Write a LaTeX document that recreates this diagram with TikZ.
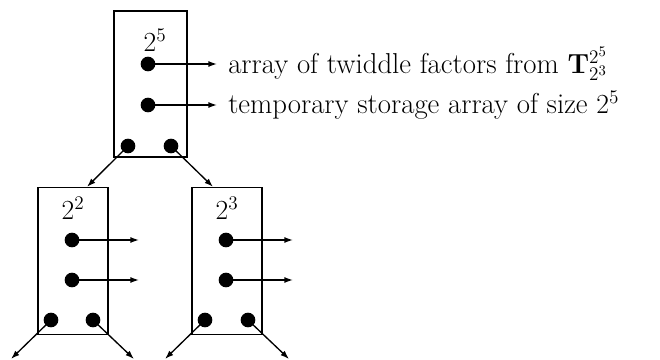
\documentclass[tikz,border=0pt]{standalone}
\usetikzlibrary{arrows.meta}
\begin{document}
\begin{tikzpicture}[x=0.75pt,y=-0.75pt,
  box/.style={draw,line width=1.2pt,inner sep=0pt,minimum width=54pt,minimum height=110pt},
  dot/.style={circle,fill=black,inner sep=0pt,minimum size=11pt},
  ptr/.style={line width=1pt,-{Latex[length=6.5pt,width=4.5pt]}},
  lbl/.style={font=\fontsize{21.6}{26}\selectfont,inner sep=0pt}]
\useasboundingbox (0,0) rectangle (660,360);
% top box
\node[box,minimum width=54.75pt,minimum height=109.5pt] (top) at (150.5,84) {};
\node[lbl] (tl) at (155,40) {$2^5$};
\node[dot] (t1) at (148,64) {};
\node[dot] (t2) at (148,105) {};
\node[dot] (t3) at (128,146) {};
\node[dot] (t4) at (171,146) {};
\coordinate (t1e) at (217,64);
\coordinate (t2e) at (217,105);
\draw[ptr] (t1.center) -- (t1e);
\draw[ptr] (t2.center) -- (t2e);
\node[lbl,anchor=west] (txt1) at (228,64) {array of twiddle factors from $\mathbf{T}^{2^5}_{2^3}$};
\node[lbl,anchor=west] (txt2) at (228,105) {temporary storage array of size $2^5$};
% left child
\node[box,minimum width=52.5pt,minimum height=110pt] (lb) at (73,261) {};
\node[lbl] (ll) at (73,208) {$2^2$};
\node[dot] (l1) at (72,240) {};
\node[dot] (l2) at (72,280) {};
\node[dot] (l3) at (51,320) {};
\node[dot] (l4) at (93,320) {};
\coordinate (l1e) at (139,240);
\coordinate (l2e) at (139,280);
\coordinate (l3e) at (11,359);
\coordinate (l4e) at (134,359);
% right child
\node[box,minimum width=52.5pt,minimum height=110pt] (rb) at (227,261) {};
\node[lbl] (rl) at (227,208) {$2^3$};
\node[dot] (r1) at (226,240) {};
\node[dot] (r2) at (226,280) {};
\node[dot] (r3) at (205,320) {};
\node[dot] (r4) at (248,320) {};
\coordinate (r1e) at (293,240);
\coordinate (r2e) at (293,280);
\coordinate (r3e) at (165,359);
\coordinate (r4e) at (289,359);
% connectors
\draw[ptr] (t3.center) -- (lb.north -| 87,0);
\draw[ptr] (t4.center) -- (rb.north -| 213,0);
\foreach \a in {l1,l2,l3,l4,r1,r2,r3,r4}
  \draw[ptr] (\a.center) -- (\a e);
\end{tikzpicture}
\end{document}
